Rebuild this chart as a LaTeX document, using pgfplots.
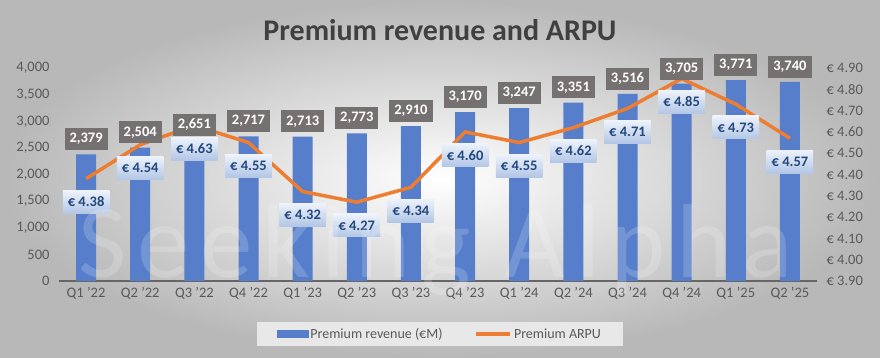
\documentclass[border=0pt]{standalone}
\usepackage{fontspec}
\setmainfont{Carlito}
\usepackage{pgfplots}
\pgfplotsset{compat=1.18}
\definecolor{barblue}{RGB}{86,126,202}
\definecolor{lineorange}{RGB}{237,125,49}
\definecolor{lblgray}{RGB}{118,113,113}
\definecolor{txtgray}{RGB}{89,89,89}
\definecolor{darkblue}{RGB}{34,72,125}
\definecolor{lbltop}{RGB}{238,243,251}
\definecolor{lblbot}{RGB}{178,198,230}
\definecolor{legfill}{RGB}{232,232,232}
\pgfplotstableread{
x rev arpu
0 2379 4.38
1 2504 4.54
2 2651 4.63
3 2717 4.55
4 2713 4.32
5 2773 4.27
6 2910 4.34
7 3170 4.60
8 3247 4.55
9 3351 4.62
10 3516 4.71
11 3705 4.85
12 3771 4.73
13 3740 4.57
}\datatable
\pgfplotsset{
  base/.style={
    at={(59pt,77pt)}, anchor=south west, scale only axis,
    width=758pt, height=213pt,
    xmin=-0.5, xmax=13.5,
    major tick length=0pt,
    /pgf/number format/assume math mode=true,
    tick label style={font=\fontsize{14.5}{16}\selectfont, text=txtgray},
  },
  revlbl/.style={
    nodes near coords,
    every node near coord/.append style={fill=lblgray, text=white,
     font=\bfseries\fontsize{14.5}{16}\selectfont, inner xsep=5pt,
     minimum height=22pt, anchor=south, yshift=4pt},
  },
}
\begin{document}
\begin{tikzpicture}
\shade[inner color=white, outer color=black!28] (0pt,0pt) rectangle (880pt,358pt);
\node[font=\bfseries\fontsize{30}{34}\selectfont, text=black!75] at (440pt,328pt) {Premium revenue and ARPU};
\begin{axis}[base,
  ymin=0, ymax=4000,
  axis x line=bottom, axis y line=left,
  axis line style={-},
  x axis line style={draw=black!60, line width=1.5pt},
  y axis line style={draw=none},
  xtick={0,...,13},
  xticklabels={Q1 '22,Q2 '22,Q3 '22,Q4 '22,Q1 '23,Q2 '23,Q3 '23,Q4 '23,Q1 '24,Q2 '24,Q3 '24,Q4 '24,Q1 '25,Q2 '25},
  ytick={0,500,...,4000},
  scaled y ticks=false,
  /pgf/number format/1000 sep={,},
  yticklabel style={xshift=-6pt},
  xticklabel style={yshift=-3pt},
  ybar, bar width=20pt,
]
\addplot[fill=barblue, draw=none] table[x=x, y=rev] {\datatable};
\end{axis}
\begin{axis}[base,
  ymin=3.9, ymax=4.9,
  axis x line=none, axis y line*=right,
  y axis line style={draw=none},
  ytick={3.9,4.0,4.1,4.2,4.3,4.4,4.5,4.6,4.7,4.8,4.9},
  yticklabel={€ \pgfmathprintnumber[fixed,fixed zerofill,precision=2]{\tick}},
  yticklabel style={xshift=6pt},
  nodes near coords={€ \pgfmathprintnumber[fixed,fixed zerofill,precision=2]{\pgfplotspointmeta}},
  every node near coord/.append style={top color=lbltop, bottom color=lblbot, text=darkblue,
     font=\bfseries\fontsize{14.5}{16}\selectfont, inner xsep=5pt,
     minimum height=23pt, anchor=north, yshift=-10pt},
  legend columns=2,
  legend style={at={(0.5026,-0.249)}, anchor=center, fill=legfill, draw=none,
     font=\fontsize{14}{16}\selectfont, text=txtgray, inner xsep=20pt, inner ysep=4pt,
     /tikz/every even column/.append style={column sep=30pt}},
]
\addlegendimage{legend image code/.code={\fill[barblue] (0pt,-3.5pt) rectangle (31pt,3.5pt);}}
\addlegendentry{Premium revenue (€M)}
\addplot[lineorange, line width=3.5pt, mark=none,
  legend image code/.code={\draw[lineorange, line width=3.5pt] (0pt,0pt) -- (34pt,0pt);}]
  table[x=x, y=arpu] {\datatable};
\addlegendentry{Premium ARPU}
\end{axis}
\begin{axis}[base,
  ymin=0, ymax=4000, hide axis,
  /pgf/number format/1000 sep={,},
  ybar, bar width=20pt, revlbl,
]
\addplot[draw=none, fill=none] table[x=x, y=rev] {\datatable};
\end{axis}
\node[anchor=base west, font=\fontsize{105}{110}\selectfont, text=white, opacity=0.18] at (75pt,80pt) {\addfontfeatures{LetterSpace=10}Seeking Alpha};
\end{tikzpicture}
\end{document}
